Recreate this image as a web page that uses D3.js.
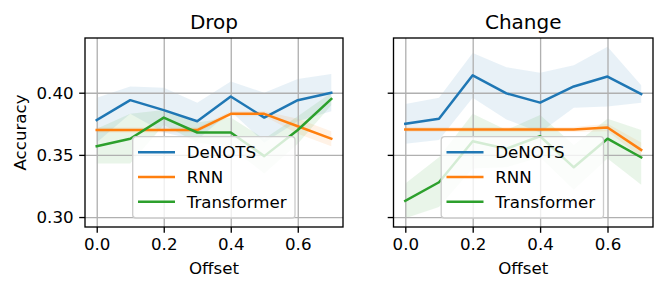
<!DOCTYPE html>
<html>
<head>
<meta charset="utf-8">
<script src="https://cdn.jsdelivr.net/npm/d3@7"></script>
<style>
  body { margin: 0; background: #fff; }
  svg { font-family: "DejaVu Sans", sans-serif; }
</style>
</head>
<body>
<svg id="chart" width="665" height="290"></svg>
<script>
const offsets = [0, 0.1, 0.2, 0.3, 0.4, 0.5, 0.6, 0.7];
const xTicks = [0, 0.2, 0.4, 0.6];
const yTicks = [0.30, 0.35, 0.40];
const panelTitles = ["Drop", "Change"];
const seriesNames = ["DeNOTS", "RNN", "Transformer"];
const colors = ["#1f77b4", "#ff7f0e", "#2ca02c"];

// Drop
const dropDeNOTS = [0.378, 0.394, 0.386, 0.377, 0.397, 0.380, 0.394, 0.400];
const dropDeNOTSStd = [0.018, 0.011, 0.018, 0.015, 0.012, 0.020, 0.017, 0.015];
const dropRNN = [0.370, 0.370, 0.370, 0.370, 0.383, 0.383, 0.373, 0.363];
const dropRNNStd = [0.002, 0.002, 0.002, 0.002, 0.002, 0.002, 0.006, 0.006];
const dropTransformer = [0.357, 0.363, 0.380, 0.368, 0.368, 0.349, 0.370, 0.395];
const dropTransformerStd = [0.014, 0.020, 0.006, 0.008, 0.012, 0.014, 0.011, 0.005];

// Change
const changeDeNOTS = [0.375, 0.379, 0.414, 0.3995, 0.392, 0.405, 0.413, 0.399];
const changeDeNOTSStd = [0.016, 0.017, 0.018, 0.021, 0.024, 0.017, 0.024, 0.007];
const changeRNN = [0.3705, 0.3705, 0.3705, 0.3705, 0.3705, 0.3705, 0.372, 0.354];
const changeRNNStd = [0.002, 0.002, 0.002, 0.002, 0.002, 0.002, 0.003, 0.006];
const changeTransformer = [0.313, 0.328, 0.361, 0.355, 0.365, 0.340, 0.363, 0.348];
const changeTransformerStd = [0.014, 0.020, 0.022, 0.015, 0.017, 0.018, 0.016, 0.022];

const panels = [
  {title: panelTitles[0], left: 85, right: 343, means: [dropDeNOTS, dropRNN, dropTransformer],
   stds: [dropDeNOTSStd, dropRNNStd, dropTransformerStd], yLabels: true},
  {title: panelTitles[1], left: 393.5, right: 653, means: [changeDeNOTS, changeRNN, changeTransformer],
   stds: [changeDeNOTSStd, changeRNNStd, changeTransformerStd], yLabels: false}
];

const plotTop = 38, plotBottom = 227;
const fs = 16.67;
const lw = 2.5;
const thin = 1.33;
const svg = d3.select("#chart");

const y = d3.scaleLinear().domain([0.292, 0.444]).range([plotBottom, plotTop]);

panels.forEach(p => {
  const x = d3.scaleLinear().domain([-0.035, 0.735]).range([p.left, p.right]);
  const g = svg.append("g");

  // bands
  p.means.forEach((m, i) => {
    const area = d3.area()
      .x((d, j) => x(offsets[j]))
      .y0((d, j) => y(d - p.stds[i][j]))
      .y1((d, j) => y(d + p.stds[i][j]));
    g.append("path")
      .datum(m)
      .attr("d", area)
      .attr("fill", colors[i])
      .attr("fill-opacity", 0.1);
  });

  // grid
  g.append("g")
    .attr("transform", `translate(0,${plotBottom})`)
    .call(d3.axisBottom(x).tickValues(xTicks).tickSize(-(plotBottom - plotTop)).tickFormat(""))
    .call(a => a.select(".domain").remove())
    .selectAll("line").attr("stroke", "#b0b0b0").attr("stroke-width", thin);
  g.append("g")
    .attr("transform", `translate(${p.left},0)`)
    .call(d3.axisLeft(y).tickValues(yTicks).tickSize(-(p.right - p.left)).tickFormat(""))
    .call(a => a.select(".domain").remove())
    .selectAll("line").attr("stroke", "#b0b0b0").attr("stroke-width", thin);

  // lines
  p.means.forEach((m, i) => {
    const line = d3.line()
      .x((d, j) => x(offsets[j]))
      .y(d => y(d));
    g.append("path")
      .datum(m)
      .attr("d", line)
      .attr("fill", "none")
      .attr("stroke", colors[i])
      .attr("stroke-width", lw)
      .attr("stroke-linejoin", "round")
      .attr("stroke-linecap", "square");
  });

  // axes
  const xAxis = g.append("g")
    .attr("transform", `translate(0,${plotBottom})`)
    .call(d3.axisBottom(x).tickValues(xTicks).tickSize(5.8).tickPadding(5.6).tickFormat(d3.format(".1f")));
  xAxis.select(".domain").remove();
  xAxis.selectAll("line").attr("stroke-width", thin);
  xAxis.selectAll("text").attr("font-size", fs).attr("fill", "#000")
    .attr("font-family", "DejaVu Sans");

  const yAxis = g.append("g")
    .attr("transform", `translate(${p.left},0)`)
    .call(d3.axisLeft(y).tickValues(yTicks).tickSize(5.8).tickPadding(5.6)
      .tickFormat(p.yLabels ? d3.format(".2f") : ""));
  yAxis.select(".domain").remove();
  yAxis.selectAll("line").attr("stroke-width", thin);
  yAxis.selectAll("text").attr("font-size", fs).attr("fill", "#000")
    .attr("font-family", "DejaVu Sans");

  g.append("rect")
    .attr("x", p.left).attr("y", plotTop)
    .attr("width", p.right - p.left).attr("height", plotBottom - plotTop)
    .attr("fill", "none").attr("stroke", "#000").attr("stroke-width", thin);

  // title and labels
  g.append("text")
    .attr("x", (p.left + p.right) / 2).attr("y", 28.5)
    .attr("text-anchor", "middle").attr("font-size", 20)
    .text(p.title);
  g.append("text")
    .attr("x", (p.left + p.right) / 2).attr("y", 273.5)
    .attr("text-anchor", "middle").attr("font-size", fs)
    .text("Offset");
  if (p.yLabels) {
    g.append("text")
      .attr("transform", `translate(25.5,${(plotTop + plotBottom) / 2}) rotate(-90)`)
      .attr("text-anchor", "middle").attr("font-size", fs)
      .text("Accuracy");
  }

  // legend
  const lx = p.left + 47.7, ly = plotTop + 98.7;
  const leg = g.append("g").attr("transform", `translate(${lx},${ly})`);
  leg.append("rect")
    .attr("width", 162.3).attr("height", 81.3)
    .attr("rx", 3.3).attr("ry", 3.3)
    .attr("fill", "#fff").attr("fill-opacity", 0.8)
    .attr("stroke", "#cccccc").attr("stroke-width", thin);
  seriesNames.forEach((name, i) => {
    const cy = 15.6 + i * 24.7;
    leg.append("line")
      .attr("x1", 5.3).attr("x2", 42.3)
      .attr("y1", cy).attr("y2", cy)
      .attr("stroke", colors[i]).attr("stroke-width", lw);
    leg.append("text")
      .attr("x", 54).attr("y", cy)
      .attr("dy", "0.36em")
      .attr("font-size", fs)
      .text(name);
  });
});
</script>
</body>
</html>
